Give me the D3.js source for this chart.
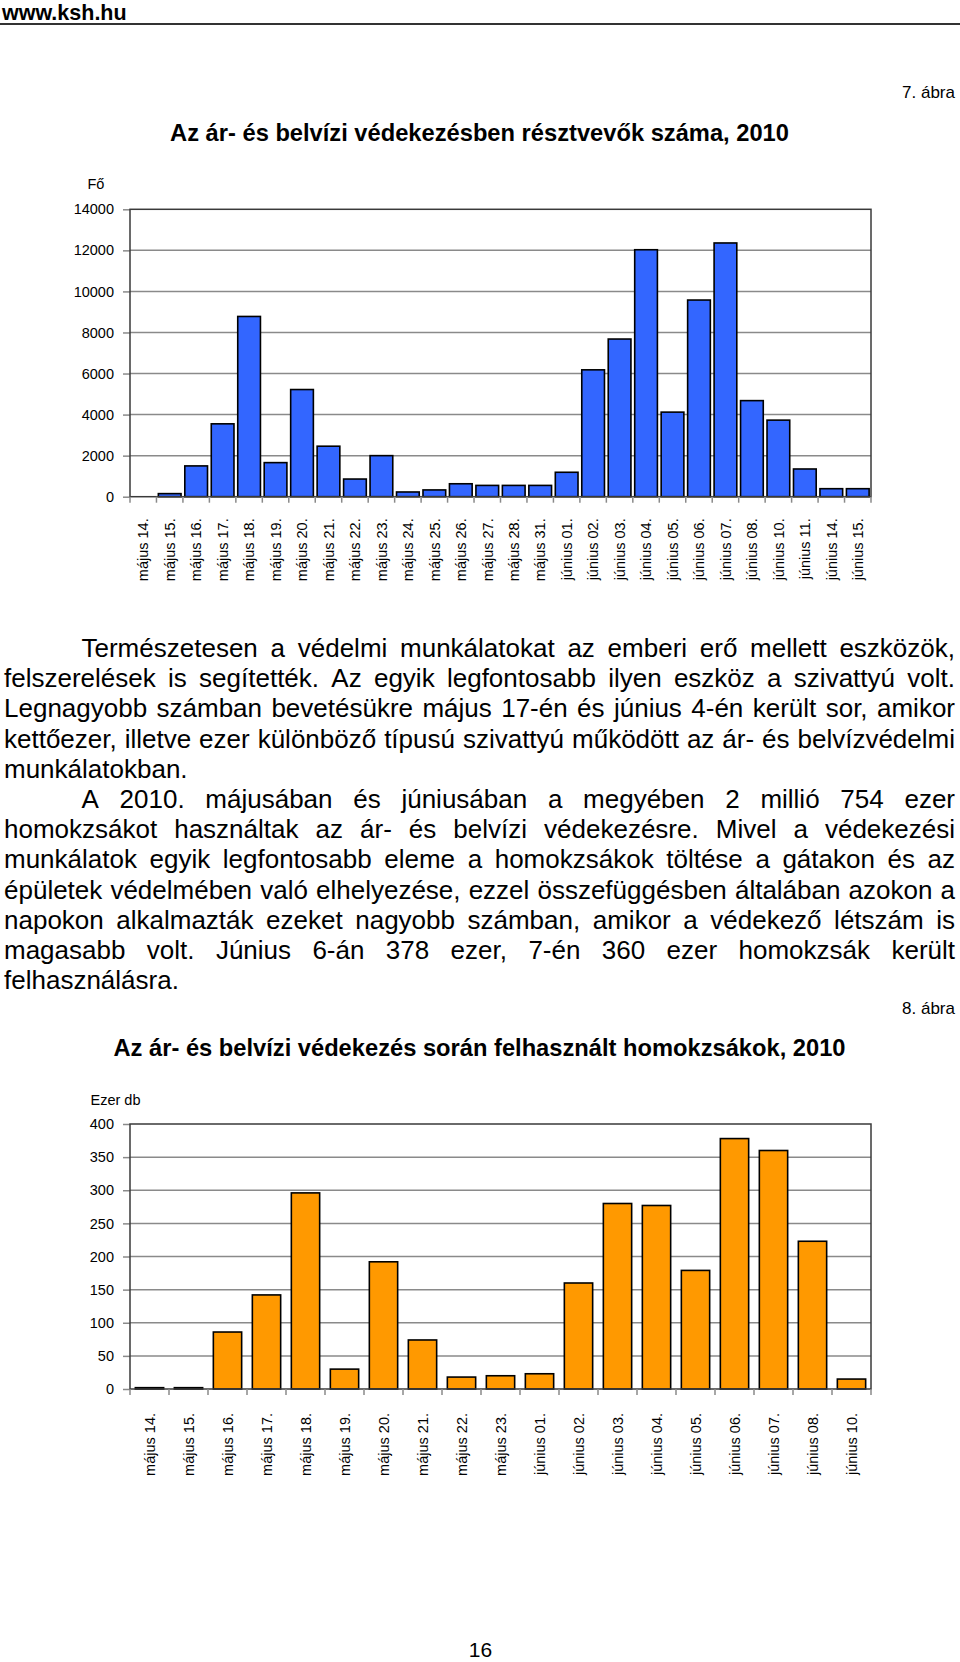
<!DOCTYPE html>
<html><head><meta charset="utf-8">
<script src="https://cdn.jsdelivr.net/npm/d3@7"></script>
<style>
body{margin:0;background:#fff}
svg{display:block}
text{font-family:"Liberation Sans",Arial,sans-serif;fill:#000}
</style>
</head><body>
<svg id="c" width="960" height="1662"></svg>
<script>
// ---------- DATA ----------
const chart1Title = "Az ár- és belvízi védekezésben résztvevők száma, 2010";
const chart1Unit = "Fő";
const chart1Categories = ["május 14.","május 15.","május 16.","május 17.","május 18.","május 19.","május 20.","május 21.","május 22.","május 23.","május 24.","május 25.","május 26.","május 27.","május 28.","május 31.","június 01.","június 02.","június 03.","június 04.","június 05.","június 06.","június 07.","június 08.","június 10.","június 11.","június 14.","június 15."];
const chart1Values = [0,150,1500,3550,8780,1660,5220,2460,860,2000,230,330,630,550,550,550,1190,6180,7680,12030,4120,9580,12360,4680,3730,1350,390,390];
const chart1Ticks = [0,2000,4000,6000,8000,10000,12000,14000];

const chart2Title = "Az ár- és belvízi védekezés során felhasznált homokzsákok, 2010";
const chart2Unit = "Ezer db";
const chart2Categories = ["május 14.","május 15.","május 16.","május 17.","május 18.","május 19.","május 20.","május 21.","május 22.","május 23.","június 01.","június 02.","június 03.","június 04.","június 05.","június 06.","június 07.","június 08.","június 10."];
const chart2Values = [2,2,86,142,296,30,192,74,18,20,23,160,280,277,179,378,360,223,15];
const chart2Ticks = [0,50,100,150,200,250,300,350,400];

const paragraphLines = [
  {text:"Természetesen a védelmi munkálatokat az emberi erő mellett eszközök,", indent:true, justify:true},
  {text:"felszerelések is segítették. Az egyik legfontosabb ilyen eszköz a szivattyú volt.", indent:false, justify:true},
  {text:"Legnagyobb számban bevetésükre május 17-én és június 4-én került sor, amikor", indent:false, justify:true},
  {text:"kettőezer, illetve ezer különböző típusú szivattyú működött az ár- és belvízvédelmi", indent:false, justify:true},
  {text:"munkálatokban.", indent:false, justify:false},
  {text:"A 2010. májusában és júniusában a megyében 2 millió 754 ezer", indent:true, justify:true},
  {text:"homokzsákot használtak az ár- és belvízi védekezésre. Mivel a védekezési", indent:false, justify:true},
  {text:"munkálatok egyik legfontosabb eleme a homokzsákok töltése a gátakon és az", indent:false, justify:true},
  {text:"épületek védelmében való elhelyezése, ezzel összefüggésben általában azokon a", indent:false, justify:true},
  {text:"napokon alkalmazták ezeket nagyobb számban, amikor a védekező létszám is", indent:false, justify:true},
  {text:"magasabb volt. Június 6-án 378 ezer, 7-én 360 ezer homokzsák került", indent:false, justify:true},
  {text:"felhasználásra.", indent:false, justify:false}
];

// ---------- DRAW ----------
const svg = d3.select("#c");
svg.append("rect").attr("width",960).attr("height",1662).attr("fill","#fff");

// header
svg.append("text").attr("x",2).attr("y",20).attr("font-size",21.5).attr("font-weight","bold").text("www.ksh.hu");
svg.append("line").attr("x1",0).attr("x2",960).attr("y1",24).attr("y2",24).attr("stroke","#333").attr("stroke-width",2);

svg.append("text").attr("x",955).attr("y",98).attr("text-anchor","end").attr("font-size",17).text("7. ábra");
svg.append("text").attr("x",479.5).attr("y",141).attr("text-anchor","middle").attr("font-size",23.7).attr("font-weight","bold").text(chart1Title);

function barChart(cfg){
  const g = svg.append("g");
  const x = d3.scaleBand().domain(cfg.cats).range([cfg.left,cfg.right]).paddingInner(cfg.pad).paddingOuter(cfg.pad/2);
  const xb = d3.scaleBand().domain(cfg.cats).range([cfg.left,cfg.right]);
  const y = d3.scaleLinear().domain([0,d3.max(cfg.ticks)]).range([cfg.bottom,cfg.top]);

  // gridlines
  g.selectAll("line.grid").data(cfg.ticks.slice(1,-1)).join("line")
    .attr("x1",cfg.left).attr("x2",cfg.right)
    .attr("y1",d=>y(d)).attr("y2",d=>y(d))
    .attr("stroke","#8a8a8a").attr("stroke-width",1.5);

  // y axis ticks + labels
  const ya = g.append("g").attr("transform",`translate(${cfg.left},0)`)
    .call(d3.axisLeft(y).tickValues(cfg.ticks).tickSize(7).tickSizeOuter(0).tickPadding(9).tickFormat(d3.format("d")));
  ya.select(".domain").remove();
  ya.selectAll(".tick line").attr("stroke","#8a8a8a").attr("stroke-width",1.5);
  ya.selectAll("text").attr("font-size",14.5).attr("font-family","Liberation Sans, Arial, sans-serif").attr("fill","#000");

  // bars
  g.selectAll("rect.bar").data(cfg.vals).join("rect")
    .attr("x",(d,i)=>x(cfg.cats[i]))
    .attr("width",x.bandwidth())
    .attr("y",d=>y(d))
    .attr("height",d=>cfg.bottom-y(d))
    .attr("fill",cfg.color).attr("stroke","#000").attr("stroke-width",1.6)
    .style("display",d=>d>0?null:"none");

  // frame
  g.append("rect").attr("x",cfg.left).attr("y",cfg.top).attr("width",cfg.right-cfg.left).attr("height",cfg.bottom-cfg.top)
    .attr("fill","none").attr("stroke","#3a3a3a").attr("stroke-width",1.5);

  // x boundary ticks
  const bounds = cfg.cats.map(c=>xb(c)).concat([cfg.right]);
  g.selectAll("line.xt").data(bounds).join("line")
    .attr("x1",d=>d).attr("x2",d=>d).attr("y1",cfg.bottom).attr("y2",cfg.bottom+6)
    .attr("stroke","#8a8a8a").attr("stroke-width",1.5);

  // x labels
  const xa = g.append("g").attr("transform",`translate(0,${cfg.bottom})`)
    .call(d3.axisBottom(x).tickSize(0));
  xa.select(".domain").remove();
  xa.selectAll("text")
    .attr("font-size",14.5).attr("font-family","Liberation Sans, Arial, sans-serif").attr("fill","#000")
    .attr("transform","rotate(-90)").attr("text-anchor","end")
    .attr("x",-cfg.labelGap).attr("y",0).attr("dy","0.36em");

  // unit label
  svg.append("text").attr("x",cfg.unitX).attr("y",cfg.unitY).attr("font-size",14.5).text(cfg.unit);
}

barChart({cats:chart1Categories, vals:chart1Values, ticks:chart1Ticks, top:209.3, bottom:496.7, left:130, right:871,
  pad:0.142, color:"#3366ff", labelGap:21.6, unit:chart1Unit, unitX:87.5, unitY:188.5});

// paragraph (justified)
const fs = 26, pLeft = 4, pRight = 955, pIndent = 81.5, base0 = 657, lh = 30.2;
paragraphLines.forEach((ln,i)=>{
  const yy = base0 + i*lh;
  const x0 = ln.indent ? pIndent : pLeft;
  const t = svg.append("text").attr("y",yy).attr("font-size",fs);
  if(!ln.justify){ t.attr("x",x0).text(ln.text); return; }
  const words = ln.text.split(" ");
  const widths = words.map(w=>{
    const m = svg.append("text").attr("font-size",fs).text(w);
    const wd = m.node().getComputedTextLength(); m.remove(); return wd;
  });
  const gap = (pRight - x0 - d3.sum(widths))/(words.length-1);
  let cx = x0;
  words.forEach((w,j)=>{ t.append("tspan").attr("x",cx).text(w); cx += widths[j]+gap; });
});

svg.append("text").attr("x",955).attr("y",1014).attr("text-anchor","end").attr("font-size",17).text("8. ábra");
svg.append("text").attr("x",479.5).attr("y",1056).attr("text-anchor","middle").attr("font-size",23.7).attr("font-weight","bold").text(chart2Title);

barChart({cats:chart2Categories, vals:chart2Values, ticks:chart2Ticks, top:1124, bottom:1389, left:130, right:871,
  pad:0.274, color:"#ff9900", labelGap:24, unit:chart2Unit, unitX:90.5, unitY:1104.5});

svg.append("text").attr("x",480.5).attr("y",1656.5).attr("text-anchor","middle").attr("font-size",21).text("16");
</script>
</body></html>
